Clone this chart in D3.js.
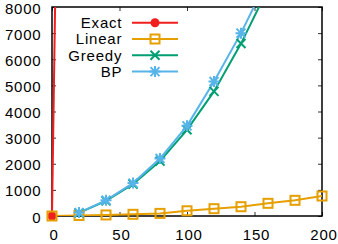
<!DOCTYPE html>
<html><head><meta charset="utf-8">
<script src="https://cdn.jsdelivr.net/npm/d3@7"></script>
<style>body{margin:0;background:#fff}svg{display:block}text{font-family:"Liberation Sans",Arial,sans-serif;letter-spacing:0.8px}</style>
</head><body>
<script>
const exactX = [0, 20];
const exactY = [0, 70000];
const linearX = [0, 20, 40, 60, 80, 100, 120, 140, 160, 180, 200];
const linearY = [0, 20, 40, 65, 100, 200, 280, 355, 485, 600, 765];
const greedyX = [20, 40, 60, 80, 100, 120, 140, 160];
const greedyY = [120, 580, 1220, 2100, 3300, 4770, 6600, 8700];
const bpX = [20, 40, 60, 80, 100, 120, 140, 160];
const bpY = [130, 600, 1260, 2200, 3450, 5150, 7000, 9100];
const xTicks = [0, 50, 100, 150, 200];
const yTicks = [0, 1000, 2000, 3000, 4000, 5000, 6000, 7000, 8000];
const seriesNames = ["Exact", "Linear", "Greedy", "BP"];
const colors = ["#f01e1e", "#e69f00", "#009e73", "#56b4e9"];

const W = 338, H = 244;
const L = 52, R = 322, T = 7, B = 216;
const svg = d3.select("body").append("svg").attr("width", W).attr("height", H);
const x = d3.scaleLinear().domain([0, 200]).range([L, R]);
const y = d3.scaleLinear().domain([0, 8000]).range([B, T]);

svg.append("defs").append("clipPath").attr("id", "clip")
  .append("rect").attr("x", L - 1).attr("y", T).attr("width", R - L + 1).attr("height", B - T);

const fs = 15;
const ax = svg.append("g").attr("transform", `translate(0,${B})`)
  .call(d3.axisBottom(x).tickValues(xTicks).tickSize(-4).tickPadding(13).tickFormat(d3.format("d")));
const axT = svg.append("g").attr("transform", `translate(0,${T})`)
  .call(d3.axisTop(x).tickValues(xTicks).tickSize(-4).tickFormat(""));
const ay = svg.append("g").attr("transform", `translate(${L},0)`)
  .call(d3.axisLeft(y).tickValues(yTicks).tickSize(-4).tickPadding(10).tickFormat(d3.format("d")));
const ayR = svg.append("g").attr("transform", `translate(${R},0)`)
  .call(d3.axisRight(y).tickValues(yTicks).tickSize(-4).tickFormat(""));
[ax, axT, ay, ayR].forEach(g => {
  g.select(".domain").remove();
  g.selectAll(".tick line").attr("stroke", "#333").attr("stroke-width", 1);
  g.selectAll("text").attr("font-size", fs).attr("fill", "#000").attr("font-family", "Liberation Sans, Arial, sans-serif");
});
ay.selectAll("text").attr("x", -10.5).attr("dy", "0.4em");
ax.selectAll("text").attr("dx", 1.5);

// frame (drawn before the data, as in the reference)
svg.append("rect").attr("x", L).attr("y", T).attr("width", R - L).attr("height", B - T)
  .attr("fill", "none").attr("stroke", "#000").attr("stroke-width", 1.5);

const plot = svg.append("g").attr("clip-path", "url(#clip)");

function marker(g, type, cx, cy, color) {
  if (type === 0) {
    g.append("circle").attr("cx", cx).attr("cy", cy).attr("r", 4.5).attr("fill", color);
  } else if (type === 1) {
    g.append("rect").attr("x", cx - 4.5).attr("y", cy - 4.5).attr("width", 9).attr("height", 9)
      .attr("fill", "none").attr("stroke", color).attr("stroke-width", 2);
  } else {
    const s = 4.5;
    const p = d3.path();
    p.moveTo(cx - s, cy - s); p.lineTo(cx + s, cy + s);
    p.moveTo(cx - s, cy + s); p.lineTo(cx + s, cy - s);
    if (type === 3) { p.moveTo(cx, cy - s - 1); p.lineTo(cx, cy + s + 1); p.moveTo(cx - s - 1, cy); p.lineTo(cx + s + 1, cy); }
    g.append("path").attr("d", p.toString()).attr("stroke", color).attr("stroke-width", 2).attr("fill", "none");
  }
}

const data = [[exactX, exactY], [linearX, linearY], [greedyX, greedyY], [bpX, bpY]];
const line = d3.line().x(d => x(d[0])).y(d => y(d[1]));
data.forEach(([xs, ys], i) => {
  const pts = xs.map((v, j) => [v, ys[j]]);
  plot.append("path").datum(pts).attr("d", line).attr("fill", "none")
    .attr("stroke", colors[i]).attr("stroke-width", 2);
});
data.forEach(([xs, ys], i) => {
  const mg = svg.append("g");
  xs.forEach((v, j) => { if (ys[j] <= 8000) marker(mg, i, x(v), y(ys[j]), colors[i]); });
});

// legend
const lg = svg.append("g");
seriesNames.forEach((n, i) => {
  const yy = 22.7 + i * 16.3;
  lg.append("text").attr("x", 122.3).attr("y", yy).attr("dy", "0.36em").attr("text-anchor", "end")
    .attr("font-size", fs).attr("fill", "#000").text(n);
  lg.append("line").attr("x1", 132).attr("x2", 178).attr("y1", yy).attr("y2", yy)
    .attr("stroke", colors[i]).attr("stroke-width", 2);
  marker(lg, i, 155, yy, colors[i]);
});
</script>
</body></html>
